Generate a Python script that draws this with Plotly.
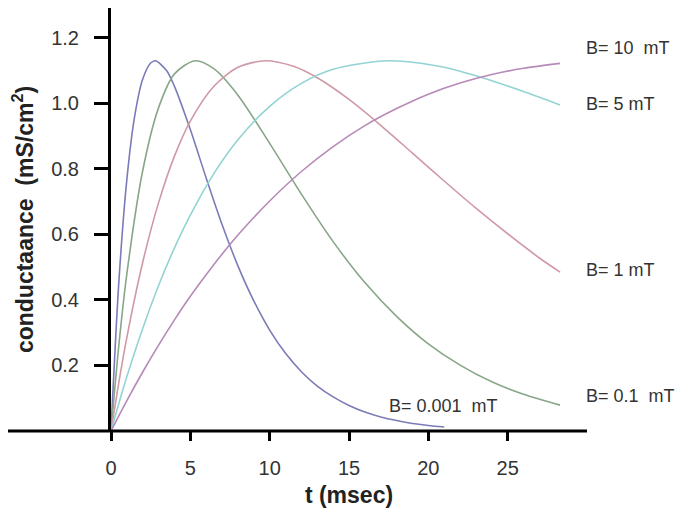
import plotly.graph_objects as go

# valeurs (t en msec, conductance en mS/cm2)
t_001 = [0, 0.5, 1, 1.5, 2, 2.5, 2.8, 3.5, 4, 5, 6, 7, 8, 9, 10, 11, 12, 13, 14, 15, 16, 17, 18, 19, 20, 21]
g_001 = [0, 0.459, 0.768, 0.963, 1.074, 1.123, 1.13, 1.100, 1.052, 0.920, 0.772, 0.630, 0.504, 0.397, 0.308, 0.237,
         0.181, 0.137, 0.104, 0.078, 0.058, 0.043, 0.032, 0.023, 0.017, 0.012]

t_01 = [0, 0.5, 1, 2, 3, 4, 5.3, 6.5, 8, 10, 12, 14, 16, 18, 20, 22, 24, 26, 28.3]
g_01 = [0, 0.264, 0.480, 0.795, 0.987, 1.090, 1.13, 1.105, 1.025, 0.878, 0.723, 0.578, 0.453, 0.350, 0.266, 0.201,
        0.150, 0.112, 0.079]

t_1 = [0, 0.5, 1, 2, 3, 4, 5, 6.5, 8, 9.7, 11.5, 13, 15, 17, 19, 21, 23, 25, 27, 28.3]
g_1 = [0, 0.150, 0.286, 0.515, 0.697, 0.839, 0.946, 1.053, 1.110, 1.13, 1.113, 1.078, 1.012, 0.933, 0.848, 0.763,
       0.680, 0.602, 0.528, 0.485]

t_5 = [0, 0.5, 1, 2, 3, 4, 5, 6.5, 8, 10, 12, 14, 17.5, 21, 24, 26, 28.3]
g_5 = [0, 0.085, 0.166, 0.313, 0.444, 0.559, 0.659, 0.787, 0.889, 0.991, 1.061, 1.104, 1.13, 1.110, 1.069, 1.036,
       0.995]

t_10 = [0, 0.5, 1, 2, 3, 4, 5, 6.5, 8, 10, 12, 14, 16, 18, 20, 22, 24, 26, 28.3]
g_10 = [0, 0.047, 0.093, 0.180, 0.262, 0.339, 0.411, 0.509, 0.598, 0.702, 0.792, 0.868, 0.932, 0.984, 1.028, 1.062,
        1.088, 1.107, 1.122]

series = [
    (t_001, g_001, '#7b7bb8'),
    (t_01, g_01, '#88a688'),
    (t_1, g_1, '#cf99a6'),
    (t_5, g_5, '#93d3d3'),
    (t_10, g_10, '#b78ab8'),
]

labels = ['B= 10  mT', 'B= 5 mT', 'B= 1 mT', 'B= 0.1  mT', 'B= 0.001  mT']
label_x = [29.8, 29.8, 29.8, 29.8, 17.4]
label_y = [1.168, 0.997, 0.491, 0.107, 0.076]

fig = go.Figure()
for t, g, c in series:
    fig.add_trace(go.Scatter(x=t, y=g, mode='lines', line=dict(color=c, width=1.6, shape='spline', smoothing=0.8),
                             showlegend=False, hoverinfo='skip'))

for txt, x, y in zip(labels, label_x, label_y):
    fig.add_annotation(x=x, y=y, text=txt, showarrow=False, xanchor='left', yanchor='middle',
                       font=dict(size=18, color='#333333'))

# axe des x prolongé à gauche, comme sur l'original
fig.add_shape(type='line', xref='paper', yref='paper', x0=-0.225, x1=1.0, y0=0, y1=0,
              line=dict(color='black', width=3))

# la page ajoute une marge de 8 px : figure réduite d'autant
fig.update_layout(
    width=682, height=509,
    margin=dict(l=103, r=103, t=0, b=86),
    plot_bgcolor='white', paper_bgcolor='white',
    font=dict(family='Liberation Sans, Arial, sans-serif', color='#333333'),
)
fig.update_xaxes(range=[0, 30], tickvals=[0, 5, 10, 15, 20, 25], showline=False, showgrid=False,
                 zeroline=False, ticks='outside', ticklen=9, tickwidth=3, tickcolor='black',
                 tickfont=dict(size=20), ticklabelstandoff=10, automargin=False,
                 title=dict(text='<b>t (msec)</b>', font=dict(size=23, color='#222222'), standoff=8))
fig.update_yaxes(range=[0, 1.291], tickvals=[0.2, 0.4, 0.6, 0.8, 1.0, 1.2], ticktext=['0.2', '0.4', '0.6', '0.8', '1.0', '1.2'],
                 showline=True, linewidth=3, linecolor='black', showgrid=False, zeroline=False,
                 ticks='outside', ticklen=14, tickwidth=3, tickcolor='black',
                 tickfont=dict(size=20), ticklabelstandoff=11, automargin=False,
                 title=dict(text='<b>conductaance  (mS/cm<sup>2</sup>)</b>', font=dict(size=23, color='#222222'), standoff=12))

fig.write_html("out.html")
